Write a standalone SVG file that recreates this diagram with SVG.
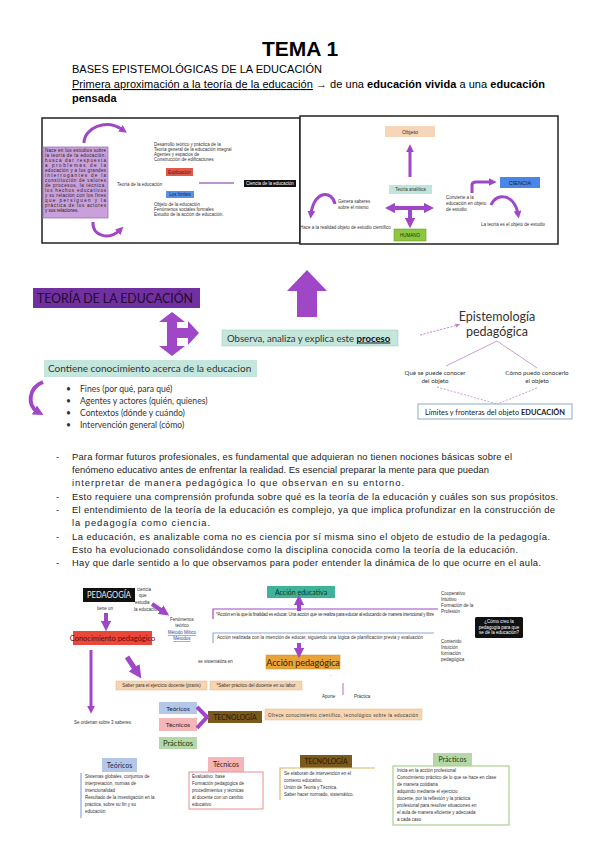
<svg xmlns="http://www.w3.org/2000/svg" width="600" height="848" viewBox="0 0 600 848">
<style>
.s{font-family:"Liberation Sans",Arial,sans-serif}
.c{font-family:Lato,"Open Sans","Liberation Sans",sans-serif}
.tn{font-family:"Liberation Sans",Arial,sans-serif;font-size:4.5px;fill:#333}
.tn6{font-family:"Liberation Sans",Arial,sans-serif;font-size:5.5px;fill:#333}
.p{font-family:"Liberation Sans",Arial,sans-serif;font-size:9.4px;fill:#222}
.w{fill:#fff}
.dr{fill:#5a1010}
.db{fill:#0a2050}
.dg{fill:#1a3a00}
.bl{fill:#2a4aa0}
.k{fill:#222}
.pa{stroke:#a047c8;fill:none}
.pf{fill:#a047c8}
</style>
<defs>
<marker id="ah" viewBox="0 0 10 10" refX="4" refY="5" markerWidth="2.6" markerHeight="2.6" orient="auto-start-reverse"><path d="M0,0 L10,5 L0,10 z" fill="#a047c8"/></marker>
<marker id="ahp" viewBox="0 0 10 10" refX="5" refY="5" markerWidth="5" markerHeight="5" orient="auto"><path d="M0,1 L10,5 L0,9 z" fill="#c77dc7"/></marker>
</defs>
<rect width="600" height="848" fill="#fff"/>

<g id="header">
<text class="s" x="300" y="56" text-anchor="middle" font-weight="bold" font-size="21">TEMA 1</text>
<text class="s" x="72" y="73" font-size="11" textLength="250" lengthAdjust="spacing">BASES EPISTEMOLÓGICAS DE LA EDUCACIÓN</text>
<text class="s" x="72" y="88" font-size="11" textLength="473" lengthAdjust="spacing"><tspan text-decoration="underline">Primera aproximación a la teoría de la educación</tspan> → de una <tspan font-weight="bold">educación vivida</tspan> a una <tspan font-weight="bold">educación</tspan></text>
<text class="s" x="72" y="102" font-size="11" font-weight="bold">pensada</text>
</g>

<g id="box-left">
<rect x="42" y="118" width="258" height="125" fill="#fff" stroke="#222" stroke-width="1.5"/>
<g id="purple-note">
<rect x="43" y="147" width="65" height="71" fill="#c9a0da" stroke="#a070c0" stroke-width="0.8"/>
<g>
<text class="tn k" x="45" y="152" textLength="61">Nace en los estudios sobre</text>
<text class="tn k" x="45" y="157" textLength="61">la teoría de la educación,</text>
<text class="tn k" x="45" y="162" textLength="61">busca dar respuesta</text>
<text class="tn k" x="45" y="167" textLength="61">a problemas de la</text>
<text class="tn k" x="45" y="172" textLength="61">educación y a los grandes</text>
<text class="tn k" x="45" y="177" textLength="61">interrogantes de la</text>
<text class="tn k" x="45" y="182" textLength="61">constitución de valores</text>
<text class="tn k" x="45" y="187" textLength="61">de procesos, la técnica,</text>
<text class="tn k" x="45" y="192" textLength="61">los hechos educativos</text>
<text class="tn k" x="45" y="197" textLength="61">y su relación con los fines</text>
<text class="tn k" x="45" y="202" textLength="61">que persiguen y la</text>
<text class="tn k" x="45" y="207" textLength="61">práctica de los actores</text>
<text class="tn k" x="45" y="212">y sus relaciones.</text>
</g>
</g>
<g id="left-text-top" class="tn">
<text x="154" y="146">Desarrollo teórico y práctica de la</text>
<text x="154" y="151">Teoría general de la educación integral</text>
<text x="154" y="156">Agentes y espacios de</text>
<text x="154" y="161">Construcción de edificaciones</text>
</g>
<g id="explicacion"><rect x="166" y="168" width="27" height="8" fill="#e05a4a"/><text class="tn dr" x="179.5" y="173.5" text-anchor="middle">Explicación</text></g>
<text class="tn" x="117" y="186">Teoría de la educación</text>
<g id="ciencia-edu"><rect x="244" y="180" width="52" height="7" fill="#111"/><text class="tn w" x="270" y="185" text-anchor="middle">Ciencia de la educación</text></g>
<g id="limites"><rect x="166" y="191" width="28" height="7" fill="#5b8fe0"/><text class="tn db" x="180" y="196.3" text-anchor="middle">Los límites</text></g>
<g id="left-text-bottom" class="tn">
<text x="154" y="206">Objeto de la educación</text>
<text x="154" y="211">Fenómenos sociales         formales</text>
<text x="154" y="216">Estudio de la acción de educación.</text>
</g>
</g>

<g id="box-right">
<rect x="300" y="116" width="258" height="128" fill="#fff" stroke="#222" stroke-width="1.5"/>
<g id="objeto"><rect x="385" y="126" width="50" height="11" fill="#f6d5b8"/><text class="tn6" x="410" y="133.5" text-anchor="middle">Objeto</text></g>
<g id="teoria-analitica"><rect x="389" y="185" width="43" height="9" fill="#bfe6dc"/><text class="tn" x="410.5" y="191" text-anchor="middle">Teoría analítica</text></g>
<g id="humano"><rect x="394" y="229" width="32" height="12" fill="#8dc63f" stroke="#6a9f2a" stroke-width="0.6"/><text class="tn dg" x="410" y="236.5" text-anchor="middle">HUMANO</text></g>
<g id="ciencia"><rect x="500" y="177" width="40" height="11" fill="#4a86e8"/><text class="tn6 db" x="520" y="184.5" text-anchor="middle">CIENCIA</text></g>
<g class="tn">
<text x="338" y="203">Genera saberes</text>
<text x="338" y="209">sobre el mismo</text>
<text x="300" y="229">Hace a la realidad objeto de estudio científico</text>
<text x="446" y="199">Convierte a la</text>
<text x="446" y="205">educación en objeto</text>
<text x="446" y="211">de estudio</text>
<text x="481" y="226">La teoría es el objeto de estudio</text>
</g>
</g>

<g id="teoria-educacion"><rect x="33" y="288" width="167" height="20" fill="#7030a0"/><text class="c" x="37" y="303" font-size="13" fill="#25082f" textLength="156" lengthAdjust="spacingAndGlyphs">TEORÍA DE LA EDUCACIÓN</text></g>

<g id="observa"><rect x="222" y="330" width="176" height="16" fill="#c5e6dd" stroke="#a0d2c4" stroke-width="0.6"/><text class="c" x="227" y="341.5" font-size="9.6" fill="#333">Observa, analiza y explica este <tspan font-weight="bold" text-decoration="underline" fill="#111">proceso</tspan></text></g>

<g id="contiene"><rect x="44" y="360" width="213" height="17" fill="#c5e6dd"/><text class="c" x="48" y="372" font-size="10" fill="#333">Contiene conocimiento acerca de la educacion</text></g>

<g id="bullets" class="c" font-size="8.6" fill="#333">
<text x="66" y="392">•</text><text x="80" y="392">Fines (por qué, para qué)</text>
<text x="66" y="404">•</text><text x="80" y="404">Agentes y actores (quién, quienes)</text>
<text x="66" y="416">•</text><text x="80" y="416">Contextos (dónde y cuándo)</text>
<text x="66" y="428">•</text><text x="80" y="428">Intervención general (cómo)</text>
</g>

<g id="epistemologia" class="c" font-size="12.5" fill="#333" text-anchor="middle">
<text x="497" y="321">Epistemología</text>
<text x="497" y="336">pedagógica</text>
</g>
<g id="que-conocer" class="c" font-size="6.2" fill="#333" text-anchor="middle">
<text x="435" y="375">Qué se puede conocer</text>
<text x="435" y="383">del objeto</text>
</g>
<g id="como-conocer" class="c" font-size="6.2" fill="#333" text-anchor="middle">
<text x="537" y="375">Cómo puedo conocerlo</text>
<text x="537" y="383">el objeto</text>
</g>
<g id="limites-objeto"><rect x="418" y="404" width="154" height="15" fill="#fff" stroke="#8ea9c8" stroke-width="1"/><text class="c" x="495" y="414.5" font-size="7.4" fill="#222" text-anchor="middle">Límites y fronteras del objeto <tspan font-weight="bold">EDUCACIÓN</tspan></text></g>

<g id="paragraphs" class="p">
<text x="56" y="460">-</text><text x="72" y="460" textLength="440">Para formar futuros profesionales, es fundamental que adquieran no tienen nociones básicas sobre el</text>
<text x="72" y="473" textLength="417">fenómeno educativo antes de enfrentar la realidad. Es esencial preparar la mente para que puedan</text>
<text x="72" y="486" textLength="332">interpretar de manera pedagógica lo que observan en su entorno.</text>
<text x="56" y="500">-</text><text x="72" y="500" textLength="486">Esto requiere una comprensión profunda sobre qué es la teoría de la educación y cuáles son sus propósitos.</text>
<text x="56" y="513">-</text><text x="72" y="513" textLength="483">El entendimiento de la teoría de la educación es complejo, ya que implica profundizar en la construcción de</text>
<text x="72" y="526" textLength="138">la pedagogía como ciencia.</text>
<text x="56" y="540">-</text><text x="72" y="540" textLength="478">La educación, es analizable coma no es ciencia por sí misma sino el objeto de estudio de la pedagogía.</text>
<text x="72" y="553" textLength="446">Esto ha evolucionado consolidándose como la disciplina conocida como la teoría de la educación.</text>
<text x="56" y="566">-</text><text x="72" y="566" textLength="469">Hay que darle sentido a lo que observamos para poder entender la dinámica de lo que ocurre en el aula.</text>
</g>

<g id="pedagogia"><rect x="83" y="588" width="52" height="14" fill="#111"/><text class="c" x="87" y="598" font-size="8.5" fill="#eee" textLength="44" lengthAdjust="spacingAndGlyphs">PEDAGOGÍA</text></g>
<g class="tn">
<text x="137" y="591">ciencia</text>
<text x="139" y="597">que</text>
<text x="135" y="604">estudia</text>
<text x="134" y="611">la educación</text>
<text x="97" y="610">tiene un</text>
</g>
<g id="fenomenos" class="tn" text-anchor="middle">
<text x="182" y="621">Fenómenos</text>
<text x="182" y="627">teórico</text>
<text class="tn bl" x="182" y="634" text-decoration="underline">Método Mítico</text>
<text class="tn bl" x="182" y="640" text-decoration="underline">Métodos</text>
</g>
<g id="conocimiento-ped"><rect x="73" y="631" width="79" height="14" fill="#e8473a"/><text class="c" x="112.5" y="641" font-size="7.5" fill="#6a0a0a" text-anchor="middle">Conocimiento pedagógico</text></g>
<text class="tn" x="157" y="647">·</text>
<text class="tn" x="198" y="663">se sistematiza en</text>
<g id="saber-ejercicio"><rect x="116" y="681" width="91" height="9" fill="#f6d5b0" stroke="#e0b890" stroke-width="0.5"/><text class="tn" x="161.5" y="687.3" text-anchor="middle">Saber para el ejercicio docente (praxis)</text></g>
<g id="saber-practico"><rect x="210" y="681" width="92" height="9" fill="#f6d5b0" stroke="#e0b890" stroke-width="0.5"/><text class="tn" x="256" y="687.3" text-anchor="middle">*Saber práctico del docente en su labor</text></g>

<g id="accion-educativa"><rect x="267" y="586" width="68" height="12" fill="#3fb39a"/><text class="c" x="301" y="594.8" font-size="7" fill="#0a3a2a" text-anchor="middle">Acción educativa</text></g>
<text class="tn" x="216" y="616" textLength="218">*Acción en la que la finalidad es educar. Una acción que se realiza para educar al educando de manera intencional y libre</text>
<text class="tn" x="217" y="639" textLength="206">Acción realizada con la intención de educar, siguiendo una lógica de planificación previa y evaluación</text>
<g id="accion-pedagogica"><rect x="266" y="655" width="74" height="14" fill="#e8a33a" stroke="#c88a2a" stroke-width="0.5"/><text class="c" x="303" y="665.5" font-size="9" fill="#3a2200" text-anchor="middle">Acción pedagógica</text></g>
<text class="tn" x="330" y="677">·</text>
<g class="tn">
<text x="441" y="595">Cooperativo</text>
<text x="441" y="601">Intuitivo</text>
<text x="441" y="607">Formación de la</text>
<text x="441" y="613">Profesión</text>
<text x="441" y="643">Contenido</text>
<text x="441" y="649">Intuición</text>
<text x="441" y="655">formación</text>
<text x="441" y="661">pedagógica</text>
<text x="322" y="698">Aporte</text>
<text x="354" y="698">Práctica</text>
</g>
<g id="como-creo"><rect x="475" y="617" width="48" height="21" rx="1.5" fill="#111"/><g text-anchor="middle"><text class="tn w" x="499" y="623" font-size="3.8">¿Cómo creo la</text><text class="tn w" x="499" y="628.5">pedagogía para que</text><text class="tn w" x="499" y="634">se dé la educación?</text></g></g>

<text class="tn" x="74" y="724">Se ordenan sobre 3 saberes:</text>
<g id="teoricos-s"><rect x="159" y="702" width="38" height="12" fill="#b4c7e7"/><text class="c" x="178" y="710.5" font-size="6.5" fill="#1a2a4a" text-anchor="middle">Teóricos</text></g>
<g id="tecnicos-s"><rect x="159" y="718" width="38" height="13" fill="#f4b6b6"/><text class="c" x="178" y="727" font-size="6.5" fill="#4a1a1a" text-anchor="middle">Técnicos</text></g>
<g id="practicos-s"><rect x="159" y="737" width="38" height="12" fill="#b6d7a8"/><text class="c" x="178" y="746" font-size="7.5" fill="#1a3a0a" text-anchor="middle">Prácticos</text></g>
<g id="tecnologia-s"><rect x="208" y="711" width="54" height="12" fill="#7a5a1c"/><text class="c" x="235" y="720" font-size="6.8" fill="#2a1800" text-anchor="middle">TECNOLOGÍA</text></g>
<g id="ofrece"><rect x="265" y="709" width="157" height="11" fill="#f6d5b0" stroke="#e0b890" stroke-width="0.5"/><text class="tn" x="268" y="716.5" textLength="150">Ofrece conocimiento científico, tecnológico sobre la educación</text></g>

<g id="card-teoricos">
<rect x="102" y="758" width="35" height="14" fill="#b4c7e7"/><text class="c" x="119.5" y="767.5" font-size="7" fill="#1a2a5a" text-anchor="middle">Teóricos</text>
<line x1="81" y1="773" x2="81" y2="818" stroke="#8ea9d8" stroke-width="1.2"/>
<g class="tn"><text x="85" y="778">Sistemas globales, conjuntos de</text><text x="85" y="785">interpretación, normas de</text><text x="85" y="792">intencionalidad</text><text x="85" y="799">Resultado de la investigación en la</text><text x="85" y="806">práctica, sobre su fin y su</text><text x="85" y="813">educación</text></g>
</g>
<g id="card-tecnicos">
<rect x="208" y="757" width="36" height="15" fill="#f4b6b6"/><text class="c" x="226" y="767" font-size="7" fill="#4a1a1a" text-anchor="middle">Técnicos</text>
<rect x="189" y="772" width="74" height="37" fill="none" stroke="#e89090" stroke-width="1"/>
<g class="tn"><text x="192" y="778">Evaluativo: base</text><text x="192" y="785">Formación     pedagógica     de</text><text x="192" y="792">procedimientos y técnicas</text><text x="192" y="799">al docente con    un    cambio</text><text x="192" y="806">educativo</text></g>
</g>
<g id="card-tecnologia">
<rect x="300" y="755" width="52" height="13" fill="#7a5a1c"/><text class="c" x="326" y="764" font-size="6.8" fill="#2a1800" text-anchor="middle">TECNOLOGÍA</text>
<path d="M280,800 L280,768 L375,768" fill="none" stroke="#dcb860" stroke-width="1.2"/>
<g class="tn"><text x="284" y="775">Se elaboran de intervención en el</text><text x="284" y="782">contexto educativo.</text><text x="284" y="789">Unión de Teoría y Técnica.</text><text x="284" y="796">Saber hacer normado, sistemático.</text></g>
</g>
<g id="card-practicos">
<rect x="433" y="753" width="39" height="13" fill="#b6d7a8"/><text class="c" x="452.5" y="762" font-size="7" fill="#1a3a0a" text-anchor="middle">Prácticos</text>
<rect x="393" y="766" width="116" height="59" fill="none" stroke="#a9d08e" stroke-width="1.2"/>
<g class="tn"><text x="397" y="772">Inicia en la acción profesional</text><text x="397" y="779">Conocimiento práctico de lo que se hace en clase</text><text x="397" y="786">de manera cotidiana</text><text x="397" y="793">adquirido mediante el ejercicio</text><text x="397" y="800">docente, por la reflexión y la práctica</text><text x="397" y="807">profesional para resolver situaciones en</text><text x="397" y="814">el aula de manera eficiente y adecuada</text><text x="397" y="821">a cada caso</text></g>
</g>

<g id="connectors">
<path class="pa" d="M84,143 C84,128 106,118 123,130" stroke-width="3" marker-end="url(#ah)"/>
<path class="pa" d="M93,222 C92,237 110,240 120,230" stroke-width="3" marker-end="url(#ah)"/>
<line x1="199" y1="183" x2="234" y2="183" stroke="#a070c0" stroke-width="1.5"/>
<line class="pa" x1="410" y1="177" x2="410" y2="149" stroke-width="3" marker-end="url(#ah)"/>
<line class="pa" x1="391" y1="208" x2="428" y2="208" stroke-width="4" marker-start="url(#ah)" marker-end="url(#ah)"/>
<line class="pa" x1="410" y1="208" x2="410" y2="222" stroke-width="4" marker-end="url(#ah)"/>
<path class="pa" d="M335,204 C332,190 314,190 311,214" stroke-width="3" marker-end="url(#ah)"/>
<path class="pa" d="M472,193 L472,185 Q472,182 476,182 L492,182" stroke-width="3" marker-end="url(#ah)"/>
<path class="pa" d="M491,205 C497,191 515,195 518,214" stroke-width="3" marker-end="url(#ah)"/>
<polygon class="pf" points="172,312 185,322 177,322 177,328 188,328 188,321 199,333 188,345 188,338 177,338 177,346 185,346 172,356 159,346 167,346 167,322 159,322"/>
<polygon class="pf" points="307,270 327,291 317,291 317,317 297,317 297,291 287,291"/>
<path class="pa" d="M43,382 C28,388 27,406 38,412" stroke-width="4" marker-end="url(#ah)"/>
<line x1="420" y1="335" x2="458" y2="325" stroke="#c77dc7" stroke-width="1" stroke-dasharray="2,1.5" marker-end="url(#ahp)"/>
<line x1="497" y1="341" x2="446" y2="366" stroke="#c9a0d0" stroke-width="1"/>
<line x1="497" y1="341" x2="537" y2="368" stroke="#c9a0d0" stroke-width="1"/>
<line x1="437" y1="387" x2="497" y2="404" stroke="#c9a0d0" stroke-width="1" stroke-dasharray="2,1.5"/>
<line x1="537" y1="388" x2="497" y2="404" stroke="#c9a0d0" stroke-width="1" stroke-dasharray="2,1.5"/>
<line class="pa" x1="106" y1="613" x2="106" y2="625" stroke-width="4" marker-end="url(#ah)"/>
<line class="pa" x1="152" y1="604" x2="164" y2="612" stroke-width="4" marker-end="url(#ah)"/>
<line class="pa" x1="91" y1="650" x2="91" y2="709" stroke-width="3" marker-end="url(#ah)"/>
<line class="pa" x1="127" y1="657" x2="137" y2="672" stroke-width="5" marker-end="url(#ah)"/>
<line class="pa" x1="299" y1="611" x2="299" y2="601" stroke-width="4" marker-end="url(#ah)"/>
<line class="pa" x1="299" y1="643" x2="299" y2="652" stroke-width="4" marker-end="url(#ah)"/>
<path d="M213,619 L213,609 L438,609" fill="none" stroke="#a047c8" stroke-width="1.2"/>
<path d="M213,643 L213,633 L434,633" fill="none" stroke="#8ea9d8" stroke-width="1.2"/>
<line x1="343" y1="683" x2="343" y2="695" stroke="#b070c0" stroke-width="1"/>
<polyline class="pa" points="197,707 207,717 197,728" stroke-width="4"/>
</g>
</svg>
